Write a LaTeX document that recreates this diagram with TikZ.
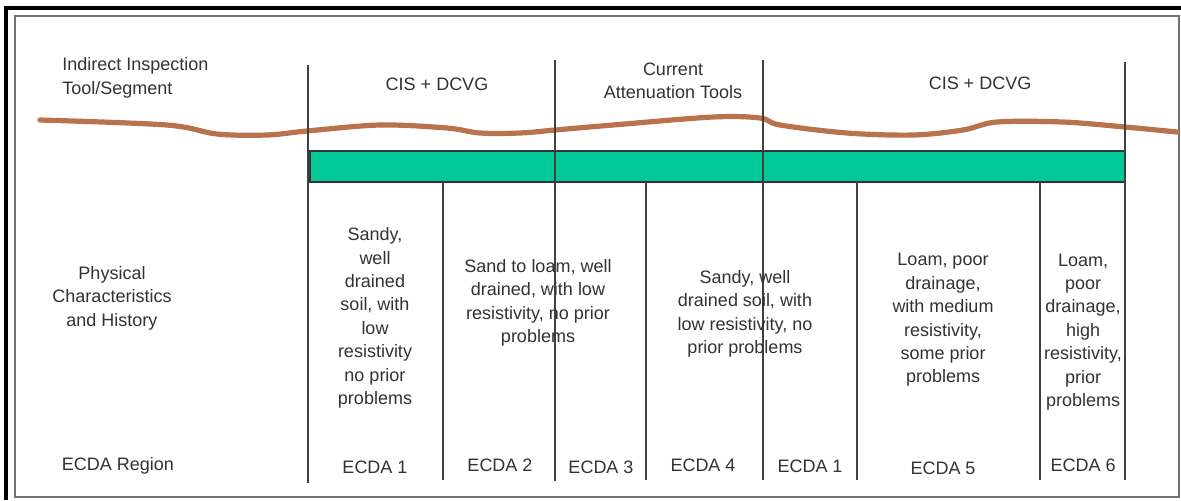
\documentclass[tikz,border=0pt]{standalone}
\usepackage{fontspec}
\setmainfont{Liberation Sans}
\usetikzlibrary{positioning}
\definecolor{pipebrown}{RGB}{184,114,76}
\definecolor{coatgreen}{RGB}{0,200,150}
\definecolor{ink}{RGB}{50,50,50}

\begin{document}
\begin{tikzpicture}[x=0.5pt,y=-0.5pt,font=\fontsize{9}{11.7}\selectfont,
  txt/.style={text=ink,align=center,inner sep=0pt},
  divider/.style={draw=black!75,line width=1pt},
  pipe/.style={draw=pipebrown,line width=2.6pt,line cap=round}]
  \useasboundingbox (0,0) rectangle (1181,500);

  % frame
  \draw[line width=2pt] (4,8) -- (1181,8);
  \draw[line width=2pt] (6,7) -- (6,500);
  \draw[draw=black!55,line width=0.8pt] (15,16) rectangle (1179,497);

  % pipe line
  \path[pipe] plot[smooth,tension=0.55] coordinates {(40,120) (167,125) (217,134) (267,135) (307,131)
    (380,125) (447,128) (480,133) (520,133) (555,130) (613,125) (713,117) (760,118) (780,125)
    (847,133) (913,135) (963,130) (997,122) (1063,122) (1125,127) (1177,132)};

  % coating bar
  \draw[fill=coatgreen,draw=black!80,line width=1pt] (310,151) rectangle (1125,182);

  % segment dividers
  \draw[divider] (308,65) -- (308,483);
  \draw[divider] (555,60) -- (555,481);
  \draw[divider] (763,60) -- (763,480);
  \draw[divider] (1125,62) -- (1125,480);
  \foreach \x in {443,646,857,1040}
    \draw[divider] (\x,182) -- (\x,480);

  % row headings
  \node[txt,align=left,anchor=west] (hdrTool)   at (62,78)   {Indirect Inspection\\Tool/Segment};
  \node[txt]                        (hdrPhys)   at (112,298) {Physical\\Characteristics\\and History};
  \node[txt]                        (hdrRegion) at (118,466) {ECDA Region};

  % tools
  \node[txt] (toolA) at (437,84)  {CIS + DCVG};
  \node[txt] (toolB) at (673,81)  {Current\\Attenuation Tools};
  \node[txt] (toolC) at (980,83)  {CIS + DCVG};

  % soil descriptions
  \node[txt] (soilA) at (375,318)  {Sandy,\\well\\drained\\soil, with\\low\\resistivity\\no prior\\problems};
  \node[txt] (soilB) at (538,303)  {Sand to loam, well\\drained, with low\\resistivity, no prior\\problems};
  \node[txt] (soilC) at (745,314)  {Sandy, well\\drained soil, with\\low resistivity, no\\prior problems};
  \node[txt] (soilD) at (943,320)  {Loam, poor\\drainage,\\with medium\\resistivity,\\some prior\\problems};
  \node[txt] (soilE) at (1083,332) {Loam,\\poor\\drainage,\\high\\resistivity,\\prior\\problems};

  % regions
  \node[txt] (regA) at (375,467)  {ECDA 1};
  \node[txt] (regB) at (500,465)  {ECDA 2};
  \node[txt] (regC) at (601,467)  {ECDA 3};
  \node[txt] (regD) at (703,465)  {ECDA 4};
  \node[txt] (regE) at (810,466)  {ECDA 1};
  \node[txt] (regF) at (943,468)  {ECDA 5};
  \node[txt] (regG) at (1083,465) {ECDA 6};
\end{tikzpicture}
\end{document}
